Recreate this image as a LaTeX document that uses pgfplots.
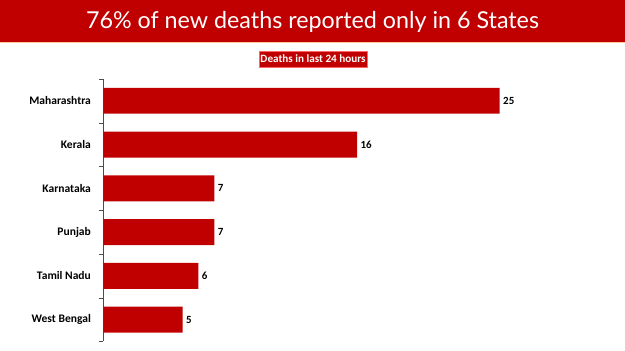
\documentclass[border=0pt]{standalone}
\usepackage{pgfplots}
\pgfplotsset{compat=1.18}
\usepackage{fontspec}
\setmainfont{Carlito}
\newfontfamily\titlefont{Lato}
\definecolor{barred}{HTML}{C00000}
\begin{document}
\begin{tikzpicture}[x=1bp,y=1bp]
\fill[white] (0,0) rectangle (625,351);
\fill[barred] (0,309) rectangle (625,351);
\draw[orange!40, line width=1bp] (0,308.5) -- (625,308.5);
\node[white, font=\titlefont\fontsize{23.4}{27}\selectfont] at (312.5,329) {76\% of new deaths reported only in 6 States};
\node[fill=barred, draw=red!60, text=white, font=\bfseries\fontsize{11.2}{13}\selectfont, inner sep=1.5bp, minimum height=16bp] at (313,292) {Deaths in last 24 hours};
\begin{axis}[
  at={(103bp,9bp)}, anchor=south west,
  xbar, scale only axis, width=397bp, height=263bp,
  xmin=0, xmax=25, ymin=-0.5, ymax=5.5, y dir=reverse,
  axis x line=none, axis y line*=left,
  axis line style={-, gray!60!black},
  ytick={0,...,5},
  yticklabels={Maharashtra,Kerala,Karnataka,Punjab,Tamil Nadu,West Bengal},
  major tick length=0pt,
  minor ytick={-0.5,0.5,...,5.5}, minor tick length=4bp, tick align=outside,
  tick style={gray!60!black},
  yticklabel style={font=\bfseries\fontsize{11.6}{13}\selectfont, xshift=-9bp},
  /pgf/number format/assume math mode=true,
  bar width=26bp,
  nodes near coords,
  nodes near coords style={font=\bfseries\fontsize{11}{12}\selectfont, black},
  clip=false,
]
\addplot[fill=barred, draw=none] coordinates {(25,0) (16,1) (7,2) (7,3) (6,4) (5,5)};
\end{axis}
\end{tikzpicture}
\end{document}
